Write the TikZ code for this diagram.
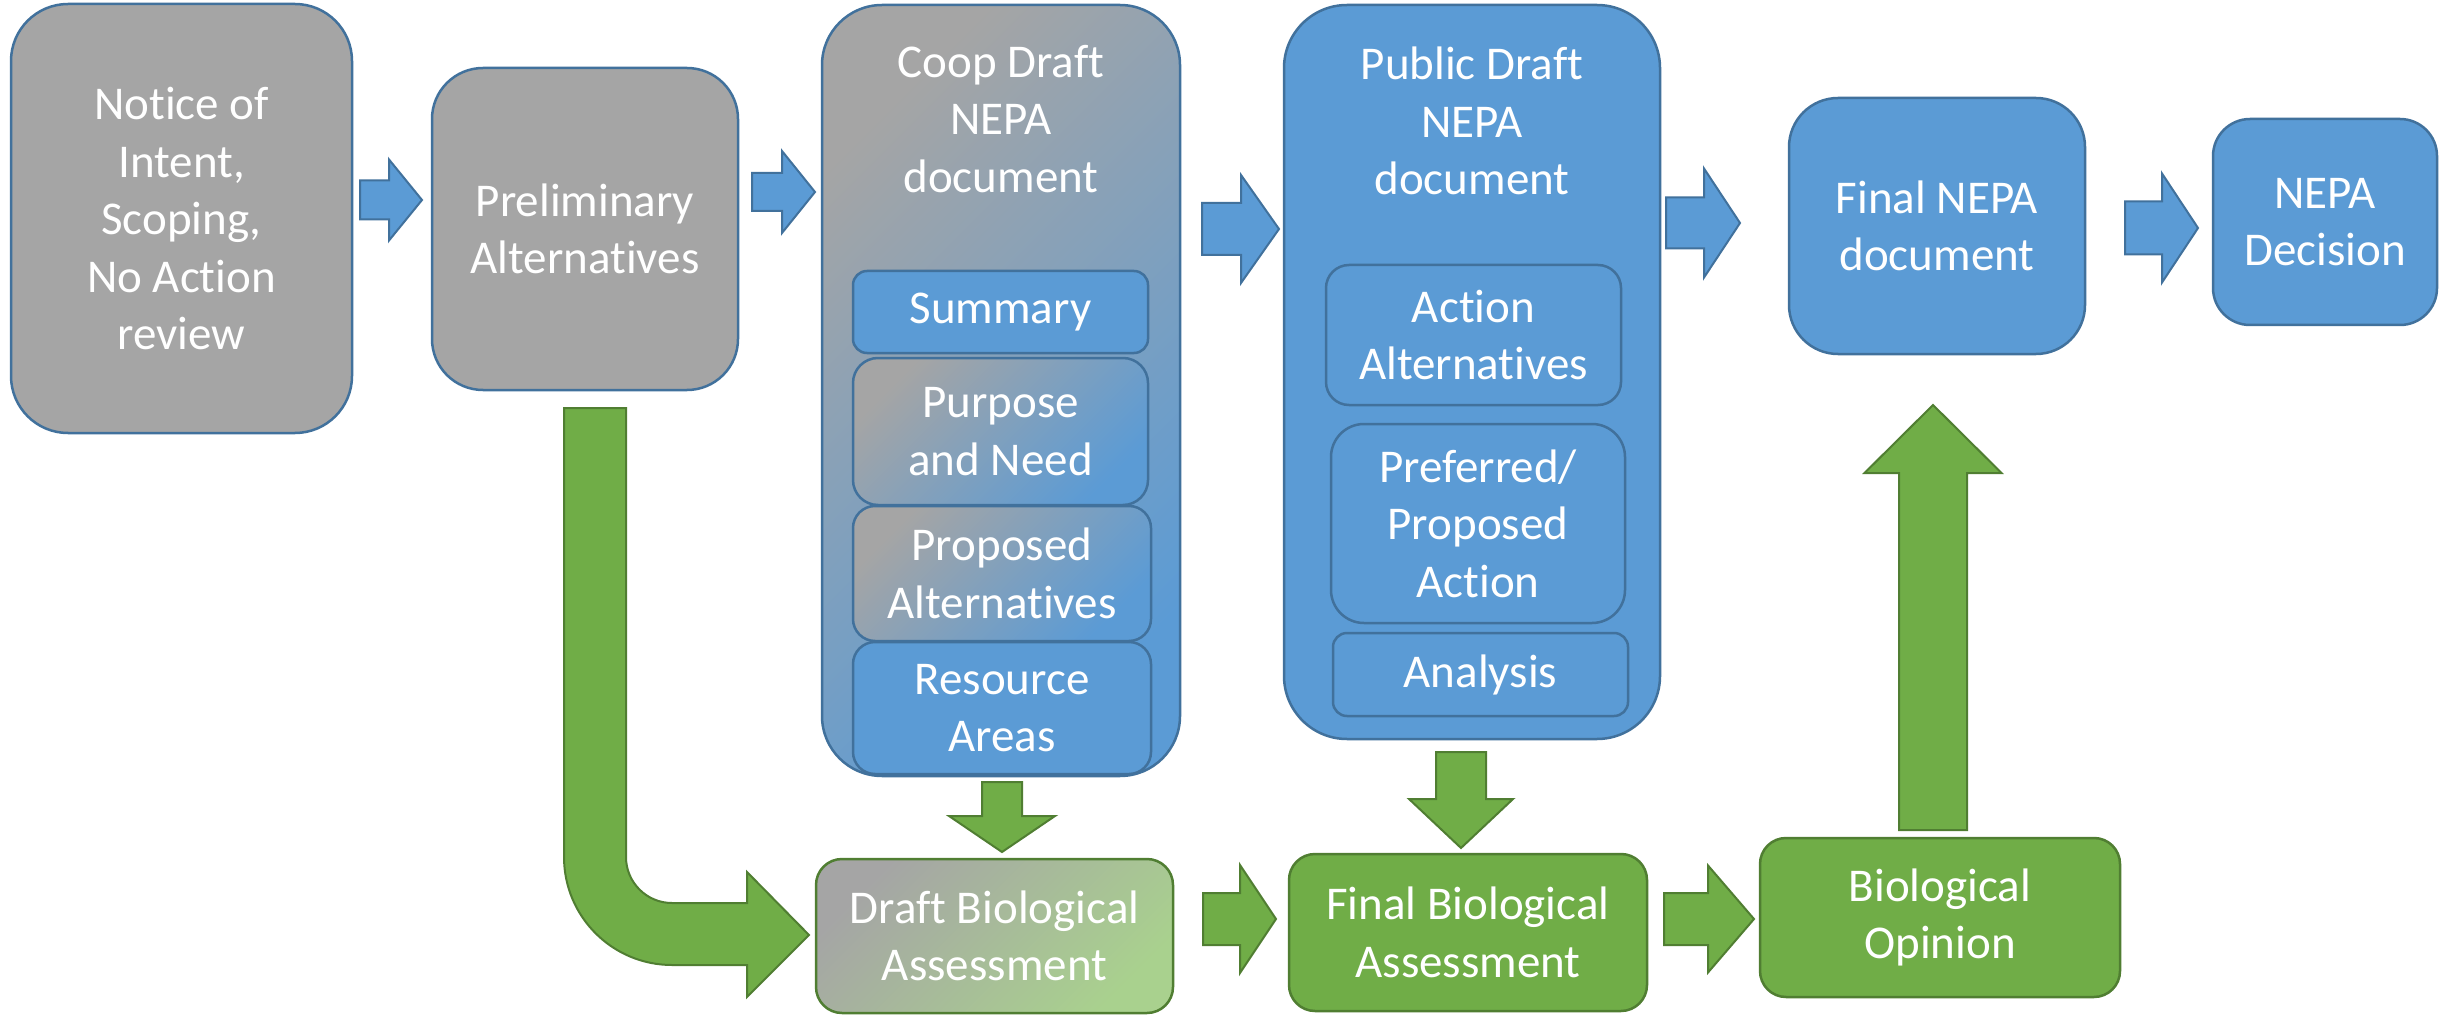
\documentclass[tikz,border=0pt]{standalone}
\usepackage{fontspec}
\setmainfont{Carlito}[Ligatures={NoCommon,NoRequired,NoContextual}]
\definecolor{grayfill}{HTML}{A5A5A5}
\definecolor{bluefill}{HTML}{5B9BD5}
\definecolor{blueline}{HTML}{41719C}
\definecolor{greenfill}{HTML}{70AD47}
\definecolor{greenline}{HTML}{507E32}
\definecolor{lightgreen}{HTML}{A9D18E}
\tikzset{
  txt/.style={text=white, align=center, inner sep=0pt, font=\fontsize{47}{57.5}\selectfont},
  box/.style={txt, draw=blueline, line width=2.5pt},
  graybox/.style={box, fill=grayfill},
  bluebox/.style={box, fill=bluefill},
  greenbox/.style={box, fill=greenfill, draw=greenline},
  gradbox/.style={box, top color=grayfill, bottom color=bluefill, shading angle=45},
  greengradbox/.style={box, draw=greenline, top color=grayfill, bottom color=lightgreen, shading angle=45},
  bluearrow/.style={fill=bluefill, draw=blueline, line width=2pt, line join=miter},
  greenarrow/.style={fill=greenfill, draw=greenline, line width=2pt, line join=miter},
  sz/.style n args={3}{minimum width=#1pt, minimum height=#2pt, rounded corners=#3pt}
}
% right-pointing block arrow: style, x0, head base x, tip x, yc, shaft half, head half
\newcommand\rblock[7]{\draw[#1] (#2,#5-#6) -- (#3,#5-#6) -- (#3,#5-#7) -- (#4,#5) -- (#3,#5+#7) -- (#3,#5+#6) -- (#2,#5+#6) -- cycle;}
% vertical block arrow: style, xc, y0, head base y, tip y, shaft half, head half
\newcommand\vblock[7]{\draw[#1] (#2-#6,#3) -- (#2-#6,#4) -- (#2-#7,#4) -- (#2,#5) -- (#2+#7,#4) -- (#2+#6,#4) -- (#2+#6,#3) -- cycle;}
\begin{document}
\begin{tikzpicture}[x=1pt, y=-1pt]
\fill[white] (0,0) rectangle (2447,1016);
\useasboundingbox (0,0) rectangle (2447,1016);

% top row
\node[graybox, sz={341}{429}{57}] (n1) at (181.5,218.5) {Notice of\\Intent,\\Scoping,\\No Action\\review};
\node[graybox, sz={306}{322}{51}] (n2) at (585,229) {Preliminary\\Alternatives};

\node[gradbox, sz={358}{771}{60}] (n3) at (1001,390.5) {};
\node[txt] (n3t) at (1001,119) {Coop Draft\\NEPA\\document};
\node[bluebox, sz={295}{82}{14}] (s1) at (1000.5,312) {Summary};
\node[gradbox, sz={295}{147}{25}] (s2) at (1000.5,431.5) {Purpose\\and Need};
\node[gradbox, sz={298}{135}{22}] (s3) at (1002,573.5) {Proposed\\Alternatives};
\node[bluebox, sz={298}{132}{22}] (s4) at (1002,708) {Resource\\Areas};

\node[bluebox, sz={376}{734}{63}] (n4) at (1472,372) {};
\node[txt] (n4t) at (1472,121) {Public Draft\\NEPA\\document};
\node[bluebox, sz={295}{140}{23}] (t1) at (1473.5,335) {Action\\Alternatives};
\node[bluebox, sz={294}{199}{33}] (t2) at (1478,523.5) {Preferred/\\Proposed\\Action};
\node[bluebox, sz={295}{83}{14}] (t3) at (1480.5,674.5) {Analysis};

\node[bluebox, sz={296}{256}{49}] (n5) at (1937,226) {Final NEPA\\document};
\node[bluebox, sz={224}{206}{37}] (n6) at (2325,222) {NEPA\\Decision};

% bottom row
\node[greengradbox, sz={357}{154}{26}] (b1) at (994.5,936) {Draft Biological\\Assessment};
\node[greenbox, sz={358}{157}{26}] (b2) at (1468,932.5) {Final Biological\\Assessment};
\node[greenbox, sz={360}{159}{26}] (b3) at (1940,917.5) {Biological\\Opinion};

% blue block arrows
\rblock{bluearrow}{360}{389}{422}{200}{19.5}{40.5}
\rblock{bluearrow}{752}{782}{815}{192}{19}{41}
\rblock{bluearrow}{1202}{1241}{1279}{229}{26}{54}
\rblock{bluearrow}{1666}{1704}{1740}{223}{25.5}{54.5}
\rblock{bluearrow}{2125}{2162}{2198}{228}{26.5}{54.5}

% green block arrows
\rblock{greenarrow}{1203}{1240}{1276}{919}{26}{54}
\rblock{greenarrow}{1664}{1708}{1754}{919}{26}{53.5}
\vblock{greenarrow}{1002}{782}{816}{852}{20}{53}
\vblock{greenarrow}{1461}{752}{799}{848}{25}{52}
\vblock{greenarrow}{1933}{830}{473}{405}{34}{68.5}

% bent arrow
\draw[greenarrow] (564,408) -- (626,408) -- (626,857)
  .. controls (626,882.4) and (646.6,903) .. (672,903) -- (747,903) -- (747,872)
  -- (809,935) -- (747,997) -- (747,965) -- (672,965)
  .. controls (612.4,965) and (564,916.6) .. (564,857) -- cycle;
\end{tikzpicture}
\end{document}
